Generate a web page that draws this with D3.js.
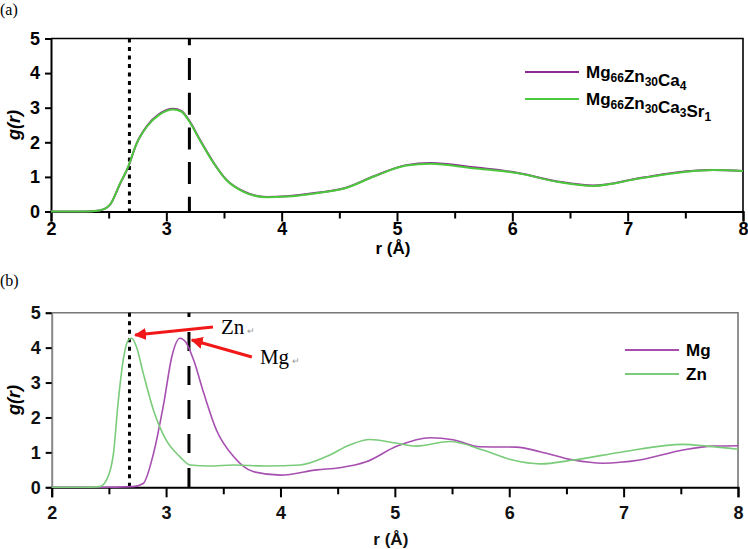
<!DOCTYPE html>
<html>
<head>
<meta charset="utf-8">
<script src="https://cdn.jsdelivr.net/npm/d3@7"></script>
<style>
  body { margin: 0; background: #fff; }
  svg { display: block; }
</style>
</head>
<body>
<div id="chart"></div>
<script>
// panel (a): total g(r) of the two alloys
const rA = [2.0, 2.3, 2.42, 2.51, 2.60, 2.67, 2.74, 2.83, 2.94, 3.06, 3.13, 3.20, 3.29, 3.41, 3.52, 3.67, 3.87, 4.04, 4.30, 4.55, 4.80, 5.08, 5.29, 5.66, 6.04, 6.39, 6.70, 7.11, 7.51, 7.74, 8.0];
const gCa4 = [0, 0, 0.03, 0.19, 0.81, 1.29, 1.95, 2.46, 2.82, 2.97, 2.91, 2.62, 2.08, 1.41, 0.92, 0.58, 0.42, 0.44, 0.54, 0.68, 1.02, 1.34, 1.40, 1.28, 1.12, 0.87, 0.75, 0.97, 1.16, 1.20, 1.17];
const gCa3Sr1 = [0, 0, 0.03, 0.19, 0.82, 1.30, 1.95, 2.45, 2.80, 2.95, 2.89, 2.60, 2.07, 1.40, 0.91, 0.57, 0.41, 0.43, 0.53, 0.67, 1.01, 1.33, 1.38, 1.25, 1.11, 0.86, 0.74, 0.96, 1.15, 1.20, 1.17];

// panel (b): partial g(r) for Mg and Zn
const rMg = [2.0, 2.42, 2.71, 2.80, 2.89, 2.98, 3.05, 3.12, 3.17, 3.24, 3.33, 3.44, 3.59, 3.76, 4.0, 4.32, 4.52, 4.75, 5.02, 5.31, 5.51, 5.74, 6.06, 6.27, 6.56, 6.82, 7.14, 7.52, 7.78, 8.0];
const gMg = [0, 0, 0.02, 0.11, 0.97, 2.41, 3.74, 4.27, 4.17, 3.65, 2.69, 1.64, 0.88, 0.45, 0.35, 0.50, 0.56, 0.73, 1.18, 1.42, 1.36, 1.16, 1.15, 1.02, 0.78, 0.69, 0.78, 1.07, 1.18, 1.19];
const rZn = [2.0, 2.3, 2.42, 2.48, 2.54, 2.58, 2.63, 2.67, 2.70, 2.74, 2.80, 2.89, 3.0, 3.12, 3.21, 3.38, 3.59, 3.88, 4.17, 4.40, 4.61, 4.78, 5.02, 5.19, 5.48, 5.77, 6.03, 6.27, 6.56, 7.0, 7.52, 7.73, 8.0];
const gZn = [0, 0, 0.02, 0.21, 0.97, 2.40, 3.74, 4.22, 4.27, 4.03, 3.27, 2.21, 1.36, 0.88, 0.64, 0.61, 0.64, 0.61, 0.64, 0.88, 1.22, 1.37, 1.26, 1.18, 1.31, 1.07, 0.78, 0.67, 0.78, 1.02, 1.23, 1.18, 1.09];

const xTicks = [2, 2.5, 3, 3.5, 4, 4.5, 5, 5.5, 6, 6.5, 7, 7.5, 8];
const yTicks = [0, 1, 2, 3, 4, 5];
const refLines = [{ r: 2.68, kind: "dot" }, { r: 3.2, kind: "dash" }];

// callouts in panel (b): text anchor and arrow tip in data units
const callouts = [
  { label: "Zn", tx: 3.48, tg: 4.39, tipR: 2.73, tipG: 4.36 },
  { label: "Mg", tx: 3.82, tg: 3.53, tipR: 3.225, tipG: 4.22 }
];

const svg = d3.select("#chart").append("svg")
    .attr("width", 748)
    .attr("height", 549);

svg.append("defs").append("marker")
    .attr("id", "arrow")
    .attr("viewBox", "0 0 10 10")
    .attr("refX", 9).attr("refY", 5)
    .attr("markerWidth", 4).attr("markerHeight", 4)
    .attr("orient", "auto-start-reverse")
    .append("path").attr("d", "M0,0 L10,5 L0,10 z").attr("fill", "#f01818");

const boldFont = "'Liberation Sans', Arial, sans-serif";
const narrowFont = "'Liberation Sans Narrow', 'Liberation Sans', Arial, sans-serif";

function drawPanel(p) {
    const x = d3.scaleLinear().domain([2, 8]).range([p.left, p.right]);
    const y = d3.scaleLinear().domain([0, 5]).range([p.bottom, p.top]);
    const g = svg.append("g");

    // frame top + right
    g.append("path")
        .attr("d", `M${p.left},${p.top}H${p.right}V${p.bottom}`)
        .attr("fill", "none").attr("stroke", p.frame).attr("stroke-width", 1.6);

    // y axis
    const ya = g.append("g")
        .attr("transform", `translate(${p.left},0)`)
        .call(d3.axisLeft(y).tickValues(yTicks).tickSize(6).tickPadding(5).tickFormat(d3.format("d")));
    ya.select(".domain").attr("stroke", p.yDomain).attr("stroke-width", 2);
    ya.selectAll(".tick line").attr("stroke", "#000").attr("stroke-width", 2);
    ya.selectAll(".tick text")
        .attr("font-family", boldFont).attr("font-weight", "bold")
        .attr("font-size", 18).attr("fill", p.labelColor);

    // x axis
    const xa = g.append("g")
        .attr("transform", `translate(0,${p.bottom})`)
        .call(d3.axisBottom(x).tickValues(xTicks).tickSize(10).tickPadding(p.xPad)
            .tickFormat(d => Number.isInteger(d) ? d : ""));
    xa.select(".domain").attr("stroke", "#000").attr("stroke-width", 2);
    xa.selectAll(".tick line").attr("stroke", "#000").attr("stroke-width", 2)
        .attr("y2", d => Number.isInteger(d) ? 10 : 7);
    xa.selectAll(".tick text")
        .attr("font-family", narrowFont).attr("font-weight", "bold")
        .attr("font-size", 18).attr("fill", p.labelColor);

    // axis titles
    g.append("text")
        .attr("x", (p.left + p.right) / 2 - 4).attr("y", p.xTitleY)
        .attr("text-anchor", "middle")
        .attr("font-family", narrowFont).attr("font-weight", "bold").attr("font-size", 17)
        .attr("fill", p.labelColor)
        .text("r (Å)");
    g.append("text")
        .attr("transform", `translate(20,${(p.top + p.bottom) / 2}) rotate(-90)`)
        .attr("text-anchor", "middle")
        .attr("font-family", boldFont).attr("font-weight", "bold").attr("font-style", "italic")
        .attr("font-size", 18)
        .text("g(r)");

    // panel tag
    svg.append("text")
        .attr("x", 0).attr("y", p.tagY)
        .attr("font-family", "'Liberation Serif', 'Times New Roman', serif")
        .attr("font-size", 16)
        .text(p.tag);

    // reference lines
    refLines.forEach(l => {
        const dot = l.kind === "dot";
        g.append("line")
            .attr("x1", x(l.r)).attr("x2", x(l.r))
            .attr("y1", y(5)).attr("y2", y(0))
            .attr("stroke", "#000").attr("stroke-width", 3)
            .attr("stroke-dasharray", dot ? "4,4.5" : p.dash)
            .attr("stroke-dashoffset", dot ? 0 : p.dashOffset);
    });

    // curves
    const line = d3.line()
        .x(d => x(d[0]))
        .y(d => y(d[1]))
        .curve(d3.curveMonotoneX);
    p.series.forEach(s => {
        g.append("path")
            .datum(d3.zip(s.r, s.g))
            .attr("fill", "none")
            .attr("stroke", s.color)
            .attr("stroke-width", p.lineWidth)
            .attr("d", line);
    });

    // legend
    p.series.forEach((s, i) => {
        const ly = p.legY + i * p.legStep;
        g.append("line")
            .attr("x1", p.legX).attr("x2", p.legX + 54)
            .attr("y1", ly).attr("y2", ly)
            .attr("stroke", s.color).attr("stroke-width", 2);
        const t = g.append("text")
            .attr("x", p.legX + 61).attr("y", ly + 6)
            .attr("font-family", boldFont).attr("font-weight", "bold").attr("font-size", 17);
        s.name.forEach(part => {
            t.append("tspan").text(part[0]);
            if (part[1]) {
                t.append("tspan").attr("font-size", 12).attr("dy", 4).text(part[1]);
                t.append("tspan").attr("font-size", 17).attr("dy", -4).text("");
            }
        });
    });

    return { x, y, g };
}

drawPanel({
    tag: "(a)", tagY: 15,
    left: 51, right: 743, top: 38.5, bottom: 211.5,
    frame: "#000", yDomain: "#000", labelColor: "#000",
    xPad: 1, xTitleY: 254, dash: "22,12.7", dashOffset: 15.2, lineWidth: 2,
    legX: 525, legY: 72, legStep: 27,
    series: [
        { name: [["Mg", "66"], ["Zn", "30"], ["Ca", "4"]], r: rA, g: gCa4, color: "#8e2a92" },
        { name: [["Mg", "66"], ["Zn", "30"], ["Ca", "3"], ["Sr", "1"]], r: rA, g: gCa3Sr1, color: "#4cc83c" }
    ]
});

const pb = drawPanel({
    tag: "(b)", tagY: 286,
    left: 51.7, right: 738, top: 312.7, bottom: 487.3,
    frame: "#777", yDomain: "#888", labelColor: "#111",
    xPad: 9, xTitleY: 545, dash: "19,15", dashOffset: 14.7, lineWidth: 1.6,
    legX: 625, legY: 350, legStep: 24,
    series: [
        { name: [["Mg"]], r: rMg, g: gMg, color: "#a64fb0" },
        { name: [["Zn"]], r: rZn, g: gZn, color: "#7acb7a" }
    ]
});

// red callouts
callouts.forEach(c => {
    const tx = pb.x(c.tx), ty = pb.y(c.tg);
    pb.g.append("line")
        .attr("x1", tx - 8).attr("y1", ty - 7)
        .attr("x2", pb.x(c.tipR)).attr("y2", pb.y(c.tipG))
        .attr("stroke", "#f01818").attr("stroke-width", 3)
        .attr("marker-end", "url(#arrow)");
    const t = pb.g.append("text")
        .attr("x", tx).attr("y", ty)
        .attr("font-family", "'Liberation Serif', 'Times New Roman', serif")
        .attr("font-size", 21)
        .text(c.label);
    t.append("tspan").attr("font-size", 9).attr("fill", "#999").attr("dx", 3).text("↵");
});
</script>
</body>
</html>
